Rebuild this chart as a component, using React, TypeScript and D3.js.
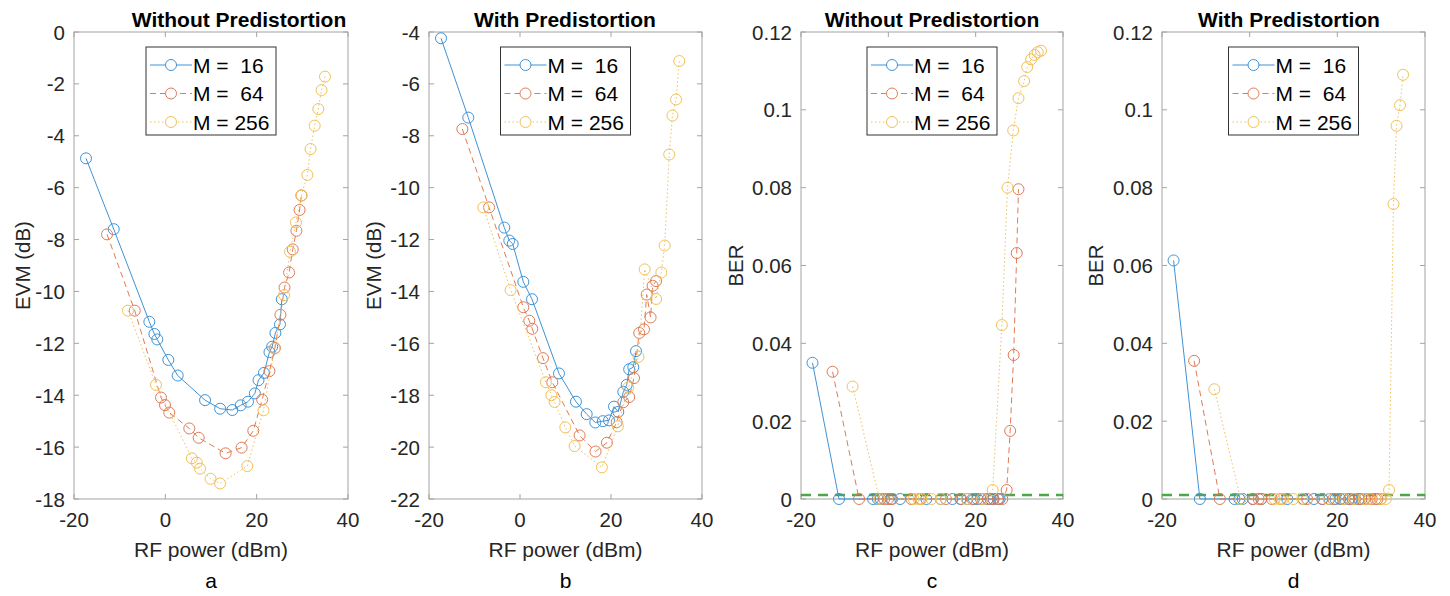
import React from "react";
import * as d3 from "d3";

// ---------- data ----------
const xTicks = [-20, 0, 20, 40];
const evmATicks = [-18, -16, -14, -12, -10, -8, -6, -4, -2, 0];
const evmBTicks = [-22, -20, -18, -16, -14, -12, -10, -8, -6, -4];
const berTicks = [0, 0.02, 0.04, 0.06, 0.08, 0.1, 0.12];
const seriesLabels = ["M =  16", "M =  64", "M = 256"];

// Panel a / c powers (dBm)
const powA16 = [-17.37, -11.3, -3.5, -2.4, -1.76, 0.65, 2.7, 8.7, 12.0, 14.67, 16.5, 18.1, 19.6, 20.4, 21.6, 22.8, 23.4, 24.1, 25.1, 25.5];
const powA64 = [-12.77, -6.7, -0.95, -0.07, 0.87, 5.25, 7.3, 13.2, 16.7, 19.26, 21.2, 22.8, 24.0, 25.2, 26.1, 27.1, 27.9, 28.7, 29.4, 29.8];
const powA256 = [-8.18, -2.05, 5.8, 6.9, 7.6, 9.9, 12.0, 17.95, 21.5, 23.9, 26.0, 27.3, 28.6, 29.8, 31.1, 31.8, 32.7, 33.5, 34.2, 34.96];

const evmA16 = [-4.87, -7.6, -11.17, -11.64, -11.85, -12.64, -13.24, -14.19, -14.52, -14.57, -14.39, -14.25, -13.93, -13.42, -13.14, -12.34, -12.13, -11.6, -11.27, -10.3];
const evmA64 = [-7.8, -10.74, -14.09, -14.38, -14.67, -15.28, -15.64, -16.24, -16.02, -15.37, -14.17, -13.07, -12.18, -10.9, -9.85, -9.27, -8.38, -7.66, -6.86, -6.3];
const evmA256 = [-10.74, -13.6, -16.43, -16.6, -16.83, -17.22, -17.4, -16.73, -14.58, -12.2, -10.14, -8.47, -7.34, -6.3, -5.51, -4.51, -3.61, -2.97, -2.24, -1.72];

const berC16 = [0.035, 0, 0, 0, 0, 0, 0, 0, 0, 0, 0, 0, 0, 0, 0, 0, 0, 0, 0, 0];
const berC64 = [0.0327, 0, 0, 0, 0, 0, 0, 0, 0, 0, 0, 0, 0, 0, 0, 0.0023, 0.0175, 0.037, 0.0632, 0.0796];
const berC256 = [0.0289, 0, 0, 0, 0, 0, 0, 0, 0, 0.0023, 0.0447, 0.08, 0.0947, 0.103, 0.1074, 0.111, 0.113, 0.1141, 0.1148, 0.1152];

// Panel b / d powers (dBm)
const powB16 = [-17.36, -11.36, -3.45, -2.35, -1.6, 0.73, 2.64, 8.57, 12.3, 14.66, 16.55, 18.2, 19.56, 20.66, 21.6, 22.7, 23.45, 24.0, 24.9, 25.5];
const powB64 = [-12.67, -6.8, 0.73, 2.04, 2.7, 5.05, 7.1, 13.1, 16.6, 19.1, 21.25, 22.7, 24.0, 25.05, 26.2, 27.25, 27.85, 28.7, 29.15, 29.9];
const powB256 = [-8.06, -2.06, 5.7, 6.9, 7.6, 9.96, 12.0, 18.0, 21.5, 23.8, 26.05, 27.4, 29.9, 31.06, 31.8, 32.8, 33.5, 34.3, 35.0];

const evmB16 = [-4.24, -7.3, -11.54, -12.04, -12.17, -13.63, -14.3, -17.16, -18.25, -18.73, -19.05, -19.0, -18.97, -18.44, -18.64, -17.87, -17.6, -17.0, -16.92, -16.3];
const evmB64 = [-7.74, -10.76, -14.61, -15.13, -15.44, -16.57, -17.5, -19.55, -20.17, -19.83, -19.04, -18.27, -18.07, -17.34, -15.6, -15.46, -14.12, -15.0, -13.78, -13.6];
const evmB256 = [-10.76, -13.95, -17.5, -18.0, -18.26, -19.24, -19.96, -20.78, -19.2, -17.7, -16.52, -13.15, -14.29, -13.27, -12.23, -8.72, -7.22, -6.6, -5.12];

const berD16 = [0.0613, 0, 0, 0, 0, 0, 0, 0, 0, 0, 0, 0, 0, 0, 0, 0, 0, 0, 0, 0];
const berD64 = [0.0355, 0, 0, 0, 0, 0, 0, 0, 0, 0, 0, 0, 0, 0, 0, 0, 0, 0, 0, 0];
const berD256 = [0.0282, 0, 0, 0, 0, 0, 0, 0, 0, 0, 0, 0, 0, 0, 0.0023, 0.0758, 0.0959, 0.1012, 0.109];

const berLimit = 0.001;

// ---------- styles ----------
const COLORS = ["#3f93d6", "#e07a55", "#f1c157"];
const DASH = ["none", "6 4", "1.5 2.5"];
const FONT = "'Liberation Sans', Arial, Helvetica, sans-serif";
const TOP = 32;
const BOTTOM = 499;

type Panel = {
  left: number;
  right: number;
  yDomain: [number, number];
  yTicks: number[];
  yFmt: (v: number) => string;
  title: string;
  titleX: number;
  yLabel: string;
  yLabelX: number;
  sub: string;
  xs: number[][];
  ys: number[][];
  limit?: number;
};

const evmFmt = (v: number) => String(v);
const berFmt = (v: number) => (v === 0 ? "0" : String(v));

const panels: Panel[] = [
  {
    left: 74, right: 348, yDomain: [-18, 0], yTicks: evmATicks, yFmt: evmFmt,
    title: "Without Predistortion", titleX: 239, yLabel: "EVM (dB)", yLabelX: 22, sub: "a",
    xs: [powA16, powA64, powA256], ys: [evmA16, evmA64, evmA256],
  },
  {
    left: 429, right: 702, yDomain: [-22, -4], yTicks: evmBTicks, yFmt: evmFmt,
    title: "With Predistortion", titleX: 565, yLabel: "EVM (dB)", yLabelX: 373, sub: "b",
    xs: [powB16, powB64, powB256], ys: [evmB16, evmB64, evmB256],
  },
  {
    left: 801, right: 1063, yDomain: [0, 0.12], yTicks: berTicks, yFmt: berFmt,
    title: "Without Predistortion", titleX: 932, yLabel: "BER", yLabelX: 735, sub: "c",
    xs: [powA16, powA64, powA256], ys: [berC16, berC64, berC256], limit: berLimit,
  },
  {
    left: 1162, right: 1425, yDomain: [0, 0.12], yTicks: berTicks, yFmt: berFmt,
    title: "With Predistortion", titleX: 1289, yLabel: "BER", yLabelX: 1095, sub: "d",
    xs: [powB16, powB64, powB256], ys: [berD16, berD64, berD256], limit: berLimit,
  },
];

function PanelView({ p }: { p: Panel }) {
  const x = d3.scaleLinear().domain([-20, 40]).range([p.left, p.right]);
  const y = d3.scaleLinear().domain(p.yDomain).range([BOTTOM, TOP]);
  const cx = (p.left + p.right) / 2;
  const cy = (TOP + BOTTOM) / 2;
  const tl = 5;
  const legW = 130;
  const legL = cx - legW / 2;
  const legT = 47;
  const rowH = 28.5;
  return (
    <g>
      {/* title */}
      <text x={p.titleX} y={27} textAnchor="middle" fontFamily={FONT} fontWeight="bold" fontSize={21} fill="#000">
        {p.title}
      </text>
      {/* box */}
      <rect x={p.left} y={TOP} width={p.right - p.left} height={BOTTOM - TOP} fill="#fff" stroke="#a3a3a3" strokeWidth={1} />
      {/* x ticks */}
      {xTicks.map((t) => (
        <g key={"x" + t}>
          <line x1={x(t)} x2={x(t)} y1={BOTTOM} y2={BOTTOM - tl} stroke="#a3a3a3" />
          <line x1={x(t)} x2={x(t)} y1={TOP} y2={TOP + tl} stroke="#a3a3a3" />
          <text x={x(t)} y={BOTTOM + 28} textAnchor="middle" fontFamily={FONT} fontSize={20.5} fill="#262626">
            {t}
          </text>
        </g>
      ))}
      {/* y ticks */}
      {p.yTicks.map((t) => (
        <g key={"y" + t}>
          <line x1={p.left} x2={p.left + tl} y1={y(t)} y2={y(t)} stroke="#a3a3a3" />
          <line x1={p.right} x2={p.right - tl} y1={y(t)} y2={y(t)} stroke="#a3a3a3" />
          <text x={p.left - 9} y={y(t) + 7.5} textAnchor="end" fontFamily={FONT} fontSize={20.5} fill="#262626">
            {p.yFmt(t)}
          </text>
        </g>
      ))}
      {/* axis labels */}
      <text x={cx} y={557} textAnchor="middle" fontFamily={FONT} fontSize={21} fill="#262626">
        RF power (dBm)
      </text>
      <text
        transform={`translate(${p.yLabelX + 8},${cy}) rotate(-90)`}
        textAnchor="middle"
        fontFamily={FONT}
        fontSize={20.5}
        fill="#262626"
      >
        {p.yLabel}
      </text>
      <text x={cx} y={588} textAnchor="middle" fontFamily={FONT} fontSize={21} fill="#000">
        {p.sub}
      </text>
      {/* limit line */}
      {p.limit !== undefined && (
        <line x1={p.left} x2={p.right} y1={y(p.limit)} y2={y(p.limit)} stroke="#4aa84a" strokeWidth={2.5} strokeDasharray="10 7" />
      )}
      {/* series */}
      {p.xs.map((xs, si) => {
        const pts: [number, number][] = xs.map((v, i) => [x(v), y(p.ys[si][i])]);
        const line = d3.line()(pts) || "";
        return (
          <g key={"s" + si}>
            <path d={line} fill="none" stroke={COLORS[si]} strokeWidth={1} strokeDasharray={DASH[si]} />
            {pts.map((pt, i) => (
              <circle key={i} cx={pt[0]} cy={pt[1]} r={5.5} fill="none" stroke={COLORS[si]} strokeWidth={1} />
            ))}
          </g>
        );
      })}
      {/* legend */}
      <rect x={legL} y={legT} width={legW} height={88} fill="#fff" stroke="#333" strokeWidth={1} />
      {seriesLabels.map((lab, i) => {
        const ry = legT + 18 + i * rowH;
        return (
          <g key={"l" + i}>
            <line x1={legL + 4} x2={legL + 46} y1={ry} y2={ry} stroke={COLORS[i]} strokeWidth={1} strokeDasharray={DASH[i]} />
            <circle cx={legL + 25} cy={ry} r={5.5} fill="#fff" stroke={COLORS[i]} strokeWidth={1} />
            <text x={legL + 47} y={ry + 7.5} fontFamily={FONT} fontSize={21} fill="#000" style={{ whiteSpace: "pre" }}>
              {lab}
            </text>
          </g>
        );
      })}
    </g>
  );
}

export default function App() {
  return (
    <svg
      width={1450}
      height={596}
      viewBox="0 0 1450 596"
      style={{ position: "absolute", left: 0, top: 0, background: "#fff" }}
    >
      <rect x={0} y={0} width={1450} height={596} fill="#fff" />
      {panels.map((p, i) => (
        <PanelView key={i} p={p} />
      ))}
    </svg>
  );
}
